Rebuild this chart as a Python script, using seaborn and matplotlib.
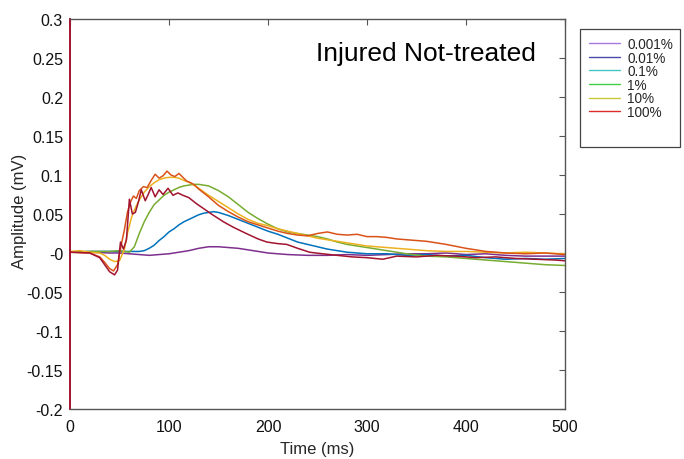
import numpy as np
import pandas as pd
import matplotlib
matplotlib.use("Agg")
import matplotlib.pyplot as plt
from matplotlib.lines import Line2D
from matplotlib.patches import Rectangle
import seaborn as sns

labels = ["0.001%", "0.01%", "0.1%", "1%", "10%", "100%"]
line_colors = ["#7E2F8E", "#0072BD", "#77AC30", "#EDB120", "#D95319", "#A2142F"]
legend_colors = ["#a678e0", "#4a4aa8", "#45c4c4", "#44cc44", "#c8c83a", "#e02a2a"]

t_p = [0, 20, 40, 50, 60, 70, 80, 90, 100, 110, 120, 130, 140, 150, 160, 170, 180, 190, 200,
       220, 240, 260, 280, 300, 320, 340, 360, 380, 400, 420, 440, 460, 480, 500]
v_p = [0.001, 0.001, 0.000, 0.000, -0.001, -0.002, -0.003, -0.002, -0.001, 0.001, 0.003, 0.006,
       0.008, 0.008, 0.007, 0.006, 0.004, 0.002, 0.000, -0.002, -0.003, -0.003, -0.002, -0.003,
       -0.002, -0.001, -0.001, 0.000, -0.002, -0.001, -0.003, -0.004, -0.004, -0.004]

t_b = [0, 20, 40, 60, 70, 75, 80, 85, 90, 95, 100, 105, 110, 115, 120, 125, 130, 135, 140, 145,
       150, 155, 160, 170, 180, 190, 200, 210, 220, 230, 240, 250, 260, 270, 280, 290, 300, 320,
       340, 360, 380, 400, 420, 440, 460, 480, 500]
v_b = [0.001, 0.002, 0.002, 0.002, 0.002, 0.003, 0.006, 0.010, 0.016, 0.021, 0.027, 0.031, 0.036,
       0.040, 0.043, 0.046, 0.049, 0.051, 0.052, 0.053, 0.052, 0.050, 0.048, 0.043, 0.038, 0.033,
       0.028, 0.024, 0.019, 0.014, 0.011, 0.008, 0.005, 0.003, 0.001, 0.000, -0.001, -0.001,
       -0.003, -0.002, -0.004, -0.003, -0.006, -0.008, -0.007, -0.008, -0.007]

t_g = [0, 20, 40, 50, 55, 60, 65, 70, 75, 80, 85, 90, 95, 100, 105, 110, 115, 120, 125, 130, 135,
       140, 150, 160, 170, 180, 190, 200, 210, 220, 230, 240, 250, 260, 270, 280, 290, 300, 320,
       340, 360, 380, 400, 420, 440, 460, 480, 500]
v_g = [0.001, 0.002, 0.002, 0.003, 0.002, 0.001, 0.008, 0.025, 0.040, 0.052, 0.062, 0.068, 0.074,
       0.078, 0.081, 0.084, 0.086, 0.087, 0.088, 0.088, 0.087, 0.086, 0.080, 0.072, 0.062, 0.052,
       0.044, 0.037, 0.031, 0.027, 0.025, 0.023, 0.021, 0.018, 0.014, 0.011, 0.009, 0.007, 0.003,
       -0.001, -0.004, -0.005, -0.007, -0.009, -0.011, -0.013, -0.015, -0.016]

t_o = [0, 10, 20, 30, 35, 40, 45, 50, 55, 58, 62, 66, 70, 75, 80, 85, 90, 95, 100, 105, 110, 115,
       120, 125, 130, 140, 150, 160, 170, 180, 190, 200, 210, 220, 230, 240, 250, 260, 270, 280,
       300, 320, 340, 360, 380, 400, 420, 440, 460, 480, 500]
v_o = [0.002, 0.003, 0.001, 0.000, -0.003, -0.008, -0.011, -0.010, 0.005, 0.025, 0.045, 0.058,
       0.068, 0.078, 0.085, 0.090, 0.094, 0.096, 0.097, 0.097, 0.096, 0.093, 0.091, 0.087, 0.083,
       0.074, 0.066, 0.058, 0.050, 0.043, 0.038, 0.035, 0.031, 0.028, 0.025, 0.022, 0.019, 0.017,
       0.015, 0.013, 0.009, 0.007, 0.005, 0.003, 0.002, 0.002, 0.001, 0.000, 0.001, 0.000, -0.001]

t_r = [0, 20, 30, 35, 40, 44, 48, 52, 55, 58, 61, 64, 67, 70, 74, 78, 82, 86, 90, 94, 98, 102,
       106, 110, 114, 118, 122, 126, 130, 140, 150, 160, 170, 180, 190, 200, 210, 220, 230, 240,
       250, 260, 270, 280, 290, 300, 310, 320, 330, 340, 360, 380, 400, 420, 440, 460, 480, 500]
v_r = [0.001, 0.000, -0.005, -0.012, -0.020, -0.023, -0.015, 0.012, 0.030, 0.052, 0.065, 0.073,
       0.070, 0.080, 0.085, 0.084, 0.093, 0.101, 0.096, 0.099, 0.105, 0.100, 0.098, 0.102, 0.097,
       0.092, 0.090, 0.087, 0.082, 0.072, 0.061, 0.053, 0.046, 0.040, 0.036, 0.032, 0.028, 0.025,
       0.023, 0.022, 0.025, 0.027, 0.024, 0.023, 0.024, 0.021, 0.021, 0.020, 0.018, 0.017, 0.015,
       0.011, 0.006, 0.002, 0.000, -0.001, 0.000, -0.002]

t_d = [0, 20, 30, 35, 40, 45, 48, 51, 54, 57, 60, 63, 66, 69, 72, 76, 79, 82, 86, 90, 94, 99, 104,
       109, 114, 120, 128, 136, 144, 155, 165, 178, 190, 199, 210, 219, 230, 242, 255, 270, 285,
       300, 316, 330, 350, 370, 390, 410, 430, 450, 470, 490, 500]
v_d = [0.001, 0.000, -0.006, -0.015, -0.024, -0.028, -0.022, 0.014, 0.005, 0.017, 0.069, 0.050,
       0.052, 0.065, 0.081, 0.067, 0.075, 0.084, 0.072, 0.081, 0.075, 0.083, 0.074, 0.077, 0.074,
       0.071, 0.063, 0.056, 0.049, 0.040, 0.033, 0.025, 0.018, 0.014, 0.012, 0.011, 0.006, 0.001,
       -0.001, -0.003, -0.005, -0.006, -0.008, -0.004, -0.005, -0.003, -0.004, -0.006, -0.005,
       -0.007, -0.008, -0.009, -0.010]

times = [t_p, t_b, t_g, t_o, t_r, t_d]
values = [v_p, v_b, v_g, v_o, v_r, v_d]

rows = []
for lab, ts, vs in zip(labels, times, values):
    for t, v in zip(ts, vs):
        rows.append({"Time": t, "Amplitude": v, "Conc": lab})
df = pd.DataFrame(rows)

sns.set_style("white")
plt.rcParams["font.family"] = ["Liberation Sans", "DejaVu Sans"]

W, H = 684, 460
fig = plt.figure(figsize=(W / 100, H / 100), dpi=100)
ax = fig.add_axes([70 / W, 50 / H, 495 / W, 390 / H])

sns.lineplot(data=df, x="Time", y="Amplitude", hue="Conc", hue_order=labels,
             palette=dict(zip(labels, line_colors)), estimator=None, sort=False,
             linewidth=1.1, ax=ax, legend=False)

ax.set_xlim(0, 500)
ax.set_ylim(-0.2, 0.3)
ax.set_xticks(np.arange(0, 501, 100))
yt = np.round(np.arange(-0.2, 0.301, 0.05), 2)
ax.set_yticks(yt)
ax.set_yticklabels([("%g" % v) for v in yt])
ax.tick_params(direction="in", length=4, top=True, right=True, labelsize=11.5,
               color="#555555", labelcolor="#111111")
ax.tick_params(axis="x", pad=7)
ax.tick_params(axis="y", pad=5)
ax.set_xlabel("Time (ms)", fontsize=12, labelpad=5)
ax.set_ylabel("Amplitude (mV)", fontsize=12)
ax.yaxis.set_label_coords((27 - 70) / 495, 0.51)

for side in ["top", "right", "bottom"]:
    ax.spines[side].set_color("#555555")
    ax.spines[side].set_linewidth(1.0)
ax.spines["left"].set_color("#A2142F")
ax.spines["left"].set_linewidth(1.4)

ax.text((536 - 70) / 495, (410 - 54) / 390, "Injured Not-treated", transform=ax.transAxes,
        ha="right", va="center", fontsize=19, color="black")

# legend frame (MATLAB style, extra space at bottom)
fig.patches.append(Rectangle((580 / W, (H - 148) / H), 100 / W, 118 / H,
                             transform=fig.transFigure, facecolor="white",
                             edgecolor="#444444", linewidth=0.9, zorder=5))
handles = [Line2D([0], [0], color=c, lw=1.0) for c in legend_colors]
leg = fig.legend(handles, labels, loc="upper left", bbox_to_anchor=(589 / W, (H - 38) / H),
                 fontsize=9.8, frameon=False, handlelength=2.3,
                 labelspacing=-0.03, borderpad=0, handletextpad=0.5, borderaxespad=0)
leg.set_zorder(6)

fig.savefig("out.png", dpi=100)
